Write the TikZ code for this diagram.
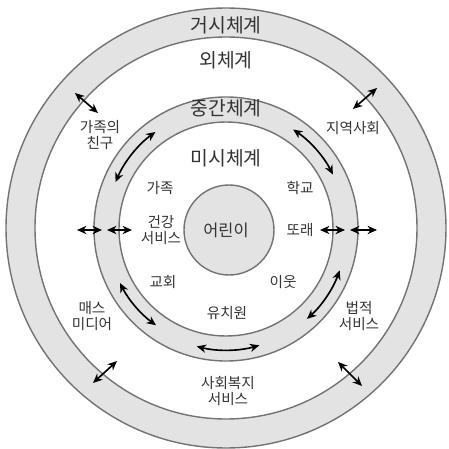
\documentclass[tikz,border=0pt]{standalone}
\usepackage{fontspec}
\setmainfont{Noto Sans CJK KR}
\usetikzlibrary{arrows.meta}

\begin{document}
\begin{tikzpicture}[
  x=0.03cm, y=0.03cm,
  band/.style={draw=black!55, line width=1.2pt, fill=black!11},
  sysname/.style={font=\fontsize{16.5}{18}\selectfont, text=black!80, inner sep=1pt},
  lbl/.style={font=\fontsize{12.5}{13.5}\selectfont, align=center, text=black!80, inner sep=1pt},
  link/.style={{Stealth[length=8pt,width=7pt,inset=2.5pt]}-{Stealth[length=8pt,width=7pt,inset=2.5pt]}, line width=1.4pt}
]
\useasboundingbox (-226,-220) rectangle (223,229);
\path[band, even odd rule] (0,1) circle[radius=220] (0,1) circle[radius=191];
\path[band, even odd rule] (0,0) circle[radius=132] (0,0) circle[radius=107];
\node[band, circle, minimum size=2.7cm, inner sep=0pt] (child) at (3,-1) {};
\node[lbl, font=\fontsize{14}{16}\selectfont] (childtxt) at (0,-1) {어린이};

\node[sysname] (macro) at (0,204) {거시체계};
\node[sysname] (exo) at (0,169) {외체계};
\node[sysname] (meso) at (0,121) {중간체계};
\node[sysname] (micro) at (0,71) {미시체계};

\node[lbl] (family) at (-66,41) {가족};
\node[lbl] (school) at (74,41) {학교};
\node[lbl] (health) at (-65,-1) {건강\\서비스};
\node[lbl] (peer) at (74,-1) {또래};
\node[lbl] (church) at (-63,-53) {교회};
\node[lbl] (neighbor) at (57,-53) {이웃};
\node[lbl] (kinder) at (1,-84) {유치원};
\node[lbl] (friends) at (-126,94) {가족의\\친구};
\node[lbl] (community) at (127,101) {지역사회};
\node[lbl] (media) at (-134,-87) {매스\\미디어};
\node[lbl] (legal) at (133,-87) {법적\\서비스};
\node[lbl] (welfare) at (2,-162) {사회복지\\서비스};

\coordinate (oul1) at (-151,136); \coordinate (oul2) at (-128,116);
\coordinate (our1) at (151,141); \coordinate (our2) at (127,120);
\coordinate (oll1) at (-133,-154); \coordinate (oll2) at (-109,-132);
\coordinate (olr1) at (112,-133); \coordinate (olr2) at (136,-157);
\coordinate (hla1) at (-149,-1); \coordinate (hla2) at (-124,-1);
\coordinate (hlb1) at (-119,-1); \coordinate (hlb2) at (-94,-1);
\coordinate (hra1) at (94,-1); \coordinate (hra2) at (119,-1);
\coordinate (hrb1) at (124,-1); \coordinate (hrb2) at (151,-1);
\draw[link] (oul1) -- (oul2);
\draw[link] (our1) -- (our2);
\draw[link] (oll1) -- (oll2);
\draw[link] (olr1) -- (olr2);
\draw[link] (hla1) -- (hla2);
\draw[link] (hlb1) -- (hlb2);
\draw[link] (hra1) -- (hra2);
\draw[link] (hrb1) -- (hrb2);

\coordinate (aul) at (126:120);
\coordinate (aur) at (56:120);
\coordinate (alr) at (-48:121);
\coordinate (all) at (207:119);
\coordinate (abot) at (256:121);
\draw[link] (aul) arc[start angle=126, end angle=157, radius=120];
\draw[link] (aur) arc[start angle=56, end angle=27, radius=120];
\draw[link] (alr) arc[start angle=-48, end angle=-20, radius=121];
\draw[link] (all) arc[start angle=207, end angle=234, radius=119];
\draw[link] (abot) arc[start angle=256, end angle=286, radius=121];
\end{tikzpicture}
\end{document}
